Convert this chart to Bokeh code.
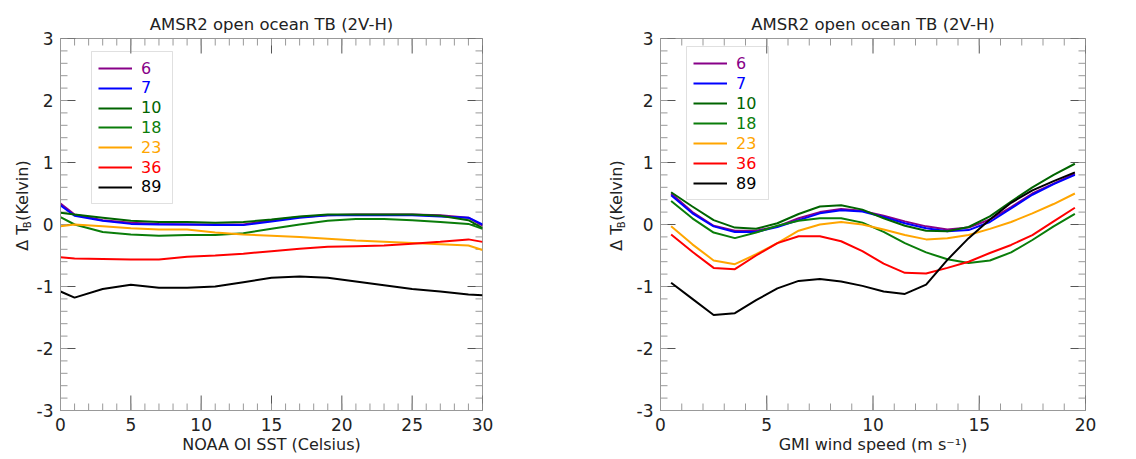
import numpy as np
from bokeh.plotting import figure
from bokeh.layouts import row
from bokeh.models import (Legend, LegendItem, SingleIntervalTicker, Range1d,
                          BoxAnnotation, CustomJSTickFormatter)
from bokeh.core.properties import value
from bokeh.embed import file_html
from bokeh.resources import INLINE

TITLE = "AMSR2 open ocean TB (2V-H)"
CHANNELS = ["6", "7", "10", "18", "23", "36", "89"]
COLORS = ["#880088", "#0000ff", "#006400", "#0a7d0a", "#ffa500", "#ff0000", "#000000"]

# ---- left panel: vs NOAA OI SST ----
sst = [0, 1, 3, 5, 7, 9, 11, 13, 15, 17, 19, 21, 23, 25, 27, 29, 30]
sst_6 = [0.34, 0.16, 0.07, 0.03, 0.01, 0.00, 0.00, 0.00, 0.07, 0.12, 0.15, 0.16, 0.16, 0.16, 0.15, 0.11, -0.02]
sst_7 = [0.31, 0.14, 0.06, 0.01, 0.00, 0.00, -0.01, -0.01, 0.05, 0.11, 0.15, 0.15, 0.15, 0.15, 0.13, 0.11, 0.00]
sst_10 = [0.19, 0.16, 0.11, 0.06, 0.04, 0.04, 0.03, 0.04, 0.08, 0.13, 0.16, 0.16, 0.16, 0.16, 0.14, 0.07, -0.06]
sst_18 = [0.12, 0.00, -0.12, -0.16, -0.18, -0.17, -0.17, -0.14, -0.07, 0.00, 0.06, 0.09, 0.09, 0.07, 0.04, 0.01, -0.07]
sst_23 = [-0.03, 0.00, -0.03, -0.06, -0.08, -0.08, -0.13, -0.16, -0.18, -0.20, -0.23, -0.26, -0.28, -0.30, -0.32, -0.34, -0.41]
sst_36 = [-0.53, -0.55, -0.555, -0.565, -0.565, -0.52, -0.50, -0.47, -0.43, -0.39, -0.36, -0.35, -0.34, -0.31, -0.28, -0.24, -0.28]
sst_89 = [-1.08, -1.18, -1.04, -0.97, -1.02, -1.02, -1.00, -0.93, -0.86, -0.84, -0.86, -0.92, -0.98, -1.04, -1.08, -1.13, -1.14]

# ---- right panel: vs GMI wind speed ----
wind = [0.5, 1.5, 2.5, 3.5, 4.5, 5.5, 6.5, 7.5, 8.5, 9.5, 10.5, 11.5, 12.5, 13.5, 14.5, 15.5, 16.5, 17.5, 18.5, 19.5]
wind_6 = [0.50, 0.20, -0.02, -0.10, -0.10, -0.03, 0.10, 0.20, 0.25, 0.22, 0.14, 0.05, -0.03, -0.08, -0.05, 0.08, 0.28, 0.50, 0.66, 0.82]
wind_7 = [0.47, 0.18, -0.03, -0.12, -0.12, -0.04, 0.07, 0.18, 0.23, 0.21, 0.12, 0.02, -0.06, -0.11, -0.09, 0.04, 0.26, 0.48, 0.65, 0.80]
wind_10 = [0.52, 0.29, 0.07, -0.05, -0.07, 0.02, 0.17, 0.29, 0.31, 0.24, 0.10, -0.02, -0.10, -0.11, -0.04, 0.13, 0.37, 0.60, 0.80, 0.98]
wind_18 = [0.38, 0.10, -0.13, -0.22, -0.13, -0.02, 0.06, 0.10, 0.10, 0.03, -0.12, -0.30, -0.45, -0.56, -0.62, -0.58, -0.45, -0.25, -0.03, 0.17]
wind_23 = [-0.03, -0.32, -0.58, -0.64, -0.48, -0.30, -0.10, 0.00, 0.04, 0.00, -0.08, -0.17, -0.24, -0.22, -0.17, -0.07, 0.04, 0.18, 0.33, 0.50]
wind_36 = [-0.16, -0.44, -0.70, -0.72, -0.50, -0.30, -0.19, -0.19, -0.27, -0.43, -0.63, -0.78, -0.79, -0.70, -0.60, -0.46, -0.33, -0.17, 0.05, 0.27]
wind_89 = [-0.94, -1.20, -1.46, -1.43, -1.22, -1.03, -0.91, -0.88, -0.92, -0.99, -1.08, -1.12, -0.97, -0.57, -0.22, 0.08, 0.35, 0.55, 0.70, 0.84]

FONT = "DejaVu Sans"
TXT = "#222222"
H = 459
FRAME_H = 372
TOP = 38
BOTTOM = H - TOP - FRAME_H
YMIN, YMAX = -3, 3


def style_axis(ax, interval):
    ax.ticker = SingleIntervalTicker(interval=interval, num_minor_ticks=5)
    ax.formatter = CustomJSTickFormatter(code="return tick.toFixed(0)")
    ax.major_tick_in = 0
    ax.major_tick_out = 0
    ax.minor_tick_in = 0
    ax.minor_tick_out = 0
    ax.axis_line_color = "#999999"
    ax.major_label_text_font = FONT
    ax.major_label_text_font_size = "17px"
    ax.major_label_text_color = TXT
    ax.major_label_standoff = 7
    ax.axis_label_text_font = FONT
    ax.axis_label_text_font_size = "16px"
    ax.axis_label_text_font_style = "normal"
    ax.axis_label_text_color = TXT
    ax.axis_label_standoff = 1


def inner_ticks(p, xmax, frame_w, xstep):
    px = xmax / frame_w          # data units per pixel along x
    py = (YMAX - YMIN) / FRAME_H  # data units per pixel along y
    for step, length, col in [(xstep, 15, "#555555"), (1, 7, "#999999")]:
        xt = np.arange(0, xmax + 1e-9, step)
        p.segment(xt, YMIN, xt, YMIN + length * py, line_color=col, line_width=1)
        p.segment(xt, YMAX, xt, YMAX - length * py, line_color=col, line_width=1)
    for step, length, col in [(1, 15, "#555555"), (0.2, 7, "#999999")]:
        yt = np.arange(YMIN, YMAX + 1e-9, step)
        p.segment(0, yt, length * px, yt, line_color=col, line_width=1)
        p.segment(xmax, yt, xmax - length * px, yt, line_color=col, line_width=1)


def make_panel(x, series, xlabel, xmax, frame_w, ml, mr, leg):
    p = figure(frame_width=frame_w, frame_height=FRAME_H, min_border_left=ml, min_border_right=mr,
               min_border_top=TOP, min_border_bottom=BOTTOM,
               x_range=Range1d(0, xmax), y_range=Range1d(YMIN, YMAX),
               output_backend="svg", toolbar_location=None, x_axis_label=xlabel)
    p.grid.visible = False
    p.outline_line_color = "#999999"
    p.title.text = TITLE
    p.title.align = "center"
    p.title.text_font = FONT
    p.title.text_font_size = "16.5px"
    p.title.text_font_style = "normal"
    p.title.text_color = TXT
    style_axis(p.xaxis[0], 5)
    style_axis(p.yaxis[0], 1)
    inner_ticks(p, xmax, frame_w, 5)

    lx, ly0, dy, box = leg
    for i, (ch, col, ys) in enumerate(zip(CHANNELS, COLORS, series)):
        r = p.line(x, ys, line_color=col, line_width=2)
        yc = ly0 + i * dy
        lg = Legend(items=[LegendItem(label=ch, renderers=[r])], location=(lx, TOP + FRAME_H - 10 - yc),
                    padding=0, margin=0, spacing=0, border_line_color=None,
                    background_fill_alpha=0, glyph_width=34, glyph_height=20,
                    label_height=20, label_standoff=9, label_text_font=FONT,
                    label_text_font_size="16px", label_text_color=col)
        p.add_layout(lg, "center")
    bl, br, bt, bb = box
    p.add_layout(BoxAnnotation(left=bl, right=br, top=TOP + FRAME_H - bt, bottom=TOP + FRAME_H - bb,
                               left_units="screen", right_units="screen",
                               top_units="screen", bottom_units="screen",
                               fill_alpha=0, line_color="#999999", line_width=1))
    return p


def ylabel_strip(width, xc):
    """Narrow strip holding the rotated y-axis label  Delta T_B (Kelvin)."""
    s = figure(width=width, height=H, x_range=Range1d(0, width), y_range=Range1d(0, H),
               min_border=0, x_axis_type=None, y_axis_type=None,
               output_backend="svg", toolbar_location=None)
    s.grid.visible = False
    s.outline_line_color = None
    parts = [("Δ T", xc, 262, "16px"), ("B", xc + 5, 234, "10px"), ("(Kelvin)", xc, 225, "16px")]
    for txt, xx, yy, fs in parts:
        s.text(x=[xx], y=[H - yy], text=[txt], angle=np.pi / 2, text_align="left",
               text_baseline="middle", text_font=value(FONT), text_font_size=value(fs),
               text_color=TXT)
    return s


lab1 = ylabel_strip(32, 22)
p1 = make_panel(sst, [sst_6, sst_7, sst_10, sst_18, sst_23, sst_36, sst_89],
                "NOAA OI SST (Celsius)", 30, 422, 28, 98,
                (38, 68, 19.8, (31, 112, 51, 203)))
lab2 = ylabel_strip(52, 36)
p2 = make_panel(wind, [wind_6, wind_7, wind_10, wind_18, wind_23, wind_36, wind_89],
                "GMI wind speed (m s⁻¹)", 20, 425, 28, 51,
                (33, 63, 20, (26, 108, 46, 199)))

layout = row(lab1, p1, lab2, p2)
open("out.html", "w").write(file_html(layout, INLINE))
